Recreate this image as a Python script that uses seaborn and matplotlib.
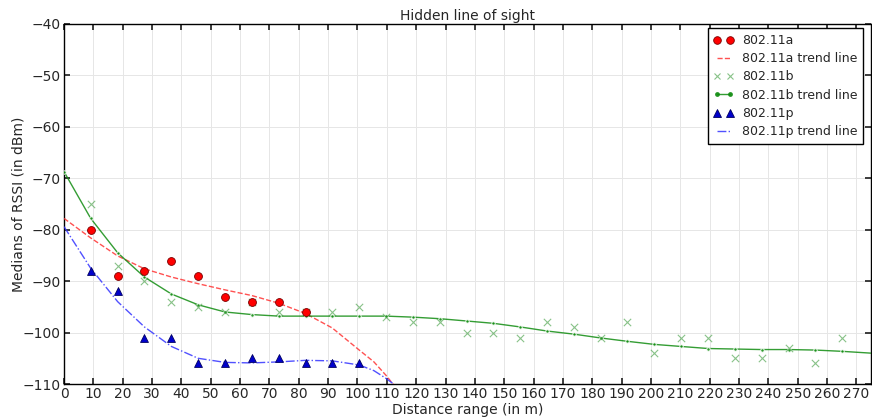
import matplotlib
matplotlib.use("Agg")
import matplotlib.pyplot as plt
import seaborn as sns
import pandas as pd
from matplotlib.lines import Line2D

# Measurement distances (m)
distances = [9.1, 18.3, 27.4, 36.6, 45.7, 54.9, 64.0, 73.2, 82.3, 91.4,
             100.6, 109.7, 118.9, 128.0, 137.2, 146.3, 155.4, 164.6, 173.7,
             182.9, 192.0, 201.2, 210.3, 219.5, 228.6, 237.7, 246.9, 256.0,
             265.2]

# Median RSSI per standard (dBm)
rssi_a = [-80, -89, -88, -86, -89, -93, -94, -94, -96]
rssi_b = [-75, -87, -90, -94, -95, -96, -94, -96, -96, -96, -95, -97, -98,
          -98, -100, -100, -101, -98, -99, -101, -98, -104, -101, -101, -105,
          -105, -103, -106, -101]
rssi_p = [-88, -92, -101, -101, -106, -106, -105, -105, -106, -106, -106]

# Trend lines
trend_a_x = [0, 9.1, 18.3, 27.4, 36.6, 45.7, 54.9, 64.0, 73.2, 82.3, 91.4,
             100.6, 105.6, 109.7, 113.5]
trend_a_y = [-77.8, -81.6, -85.1, -87.6, -89.2, -90.5, -91.7, -92.8, -94.3,
             -96.3, -99.1, -103.4, -105.7, -108.3, -111.0]

trend_b_x = [0] + distances + [275]
trend_b_y = [-68.7, -77.8, -84.5, -89.2, -92.5, -94.6, -96.0, -96.5, -96.8,
             -96.8, -96.8, -96.8, -96.8, -97.0, -97.3, -97.75, -98.2, -98.9,
             -99.7, -100.3, -101.05, -101.7, -102.3, -102.7, -103.1, -103.2,
             -103.3, -103.3, -103.4, -103.65, -104.0]

trend_p_x = [0, 9.1, 18.3, 27.4, 36.6, 45.7, 54.9, 64.0, 73.2, 82.3, 91.4,
             100.6, 105.6, 109.7, 113.5]
trend_p_y = [-79.4, -87.5, -94.0, -98.9, -102.7, -105.0, -105.8, -105.9,
             -105.7, -105.4, -105.5, -106.3, -107.4, -108.9, -110.5]

x_ticks = list(range(0, 271, 10))
y_ticks = list(range(-110, -39, 10))

sns.set_theme(style="white")
plt.rcParams["font.family"] = ["DejaVu Sans"]
plt.rcParams.update({
    "xtick.direction": "in", "ytick.direction": "in",
    "xtick.top": True, "ytick.right": True,
    "xtick.bottom": True, "ytick.left": True,
    "xtick.major.size": 4, "ytick.major.size": 4,
    "xtick.major.pad": 2.5, "ytick.major.pad": 2.5,
    "axes.edgecolor": "black", "axes.linewidth": 1.0,
})

fig = plt.figure(figsize=(8.72, 4.2), dpi=100)
ax = fig.add_axes([0.0734, 0.0857, 0.9255, 0.8572])

df_a = pd.DataFrame({"d": distances[:len(rssi_a)], "v": rssi_a})
df_b = pd.DataFrame({"d": distances, "v": rssi_b})
df_p = pd.DataFrame({"d": distances[:len(rssi_p)], "v": rssi_p})

sns.scatterplot(data=df_a, x="d", y="v", ax=ax, marker="o", s=32,
                color="#ff0000", edgecolor="#7a0000", linewidth=0.6,
                zorder=5)
sns.lineplot(x=trend_a_x, y=trend_a_y, ax=ax, color="#ff3333", alpha=0.85,
             linestyle="--", linewidth=1.0, zorder=3)
sns.scatterplot(data=df_b, x="d", y="v", ax=ax, marker="x", s=28,
                color="#3a9a3a", alpha=0.6, linewidth=0.8, zorder=4)
sns.lineplot(x=trend_b_x, y=trend_b_y, ax=ax, color="#108c10", alpha=0.85,
             linestyle="-", linewidth=1.0, marker="o", markersize=2.5,
             markevery=list(range(len(trend_b_x) - 1)), zorder=3)
sns.scatterplot(data=df_p, x="d", y="v", ax=ax, marker="^", s=32,
                color="#0000cc", edgecolor="#000060", linewidth=0.6,
                zorder=5)
sns.lineplot(x=trend_p_x, y=trend_p_y, ax=ax, color="#3333ff", alpha=0.85,
             linestyle="-.", linewidth=1.0, zorder=3)

# Legend entries in drawing order
handles = [
    Line2D([], [], linestyle="none", marker="o", markersize=5.5,
           markerfacecolor="#ff0000", markeredgecolor="#7a0000",
           markeredgewidth=0.6),
    Line2D([], [], color="#ff3333", alpha=0.85, linestyle="--", linewidth=1.0),
    Line2D([], [], linestyle="none", marker="x", markersize=4.5,
           color="#3a9a3a", alpha=0.6, markeredgewidth=0.8),
    Line2D([], [], color="#108c10", alpha=0.85, linestyle="-", linewidth=1.0,
           marker="o", markersize=2.5),
    Line2D([], [], linestyle="none", marker="^", markersize=5.5,
           markerfacecolor="#0000cc", markeredgecolor="#000060",
           markeredgewidth=0.6),
    Line2D([], [], color="#3333ff", alpha=0.85, linestyle="-.", linewidth=1.0),
]
labels = ["802.11a", "802.11a trend line", "802.11b", "802.11b trend line",
          "802.11p", "802.11p trend line"]
leg = ax.legend(handles, labels, loc="upper right",
                bbox_to_anchor=(0.996, 1.0), numpoints=2,
                fontsize=9, frameon=True, fancybox=False, framealpha=1,
                edgecolor="black", borderaxespad=0.35, handlelength=1.6,
                handletextpad=0.7, borderpad=0.45, labelspacing=0.42)
leg.get_frame().set_linewidth(1.0)

ax.set_xlim(0, 275)
ax.set_ylim(-110, -40)
ax.set_xticks(x_ticks)
ax.set_yticks(y_ticks)
ax.set_xticklabels([str(t) for t in x_ticks], fontsize=10)
ax.set_yticklabels([f"\u2212{abs(t)}" if t < 0 else str(t) for t in y_ticks],
                   fontsize=10)
ax.grid(True, color="#e6e6e6", linewidth=0.7)
ax.set_axisbelow(True)
ax.set_title("Hidden line of sight", fontsize=10, pad=3)
ax.set_xlabel("Distance range (in m)", fontsize=10, labelpad=1)
ax.set_ylabel("Medians of RSSI (in dBm)", fontsize=10, labelpad=-2)

fig.savefig("out.png", dpi=100)
